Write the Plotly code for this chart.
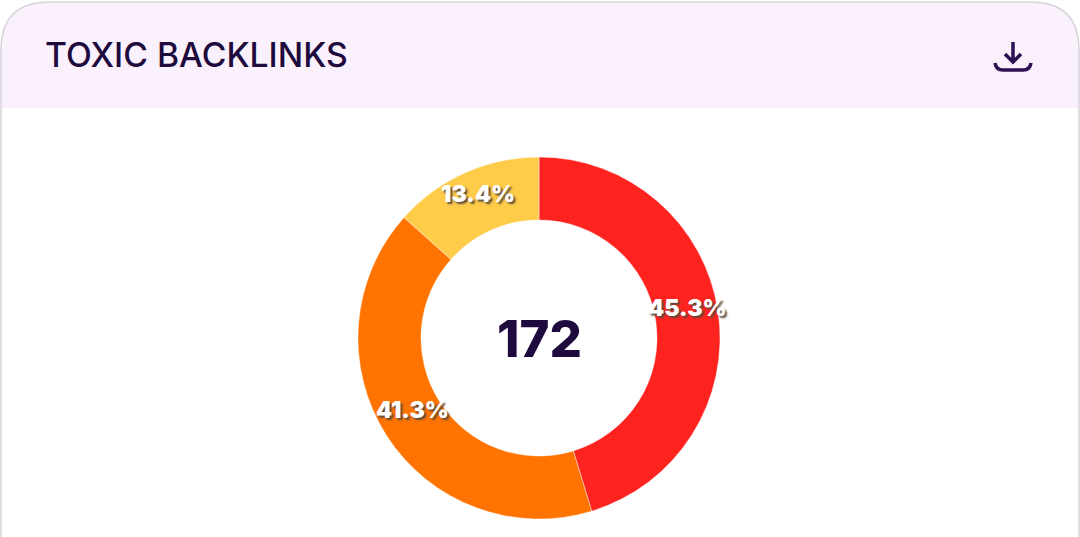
import math
import plotly.graph_objects as go

W, H = 1080, 537

labels = ["Severe", "High", "Medium"]
values = [45.3, 41.3, 13.4]
colors = ["#FF2320", "#FF7300", "#FFCC4A"]
total_label = "172"
title = "TOXIC BACKLINKS"


def px(x):
    return x / W


def py(y):
    return 1 - y / H


def path(points):
    # points are pixel positions on the page, turned into a paper svg path
    out = []
    for cmd, *xy in points:
        coords = [f"{px(xy[i]):.5f},{py(xy[i + 1]):.5f}" for i in range(0, len(xy), 2)]
        out.append(cmd + " " + " ".join(coords))
    return " ".join(out)


fig = go.Figure()

# ring centre and radii on the page
cx, cy, r_out, r_in = 539, 338, 181, 118

fig.add_trace(go.Pie(
    labels=labels,
    values=values,
    hole=r_in / r_out,
    sort=False,
    direction="clockwise",
    rotation=0,
    textinfo="none",
    showlegend=False,
    marker=dict(colors=colors, line=dict(color="rgba(255,255,255,0.7)", width=0.6)),
    domain=dict(x=[px(cx - r_out), px(cx + r_out)], y=[py(cy + r_out), py(cy - r_out)]),
))

# percent labels sit a bit above the middle of each slice
annotations = []
start = 0
for v in values:
    mid = (start + v / 2) / 100 * 2 * math.pi
    start += v
    annotations.append(dict(
        x=px(cx + 150 * math.sin(mid)),
        y=py(cy - 149 * math.cos(mid) - 8),
        xref="paper", yref="paper", showarrow=False,
        xanchor="center", yanchor="middle",
        text=f"{v}%",
        font=dict(family="Inter", size=23, color="white", weight=900,
                  shadow="2px 2px 2px #5a4a3a"),
    ))

annotations.append(dict(
    x=px(cx), y=py(339), xref="paper", yref="paper", showarrow=False,
    xanchor="center", yanchor="middle",
    text=total_label,
    font=dict(family="Inter", size=51, color="#1E0A3C", weight=800),
))
annotations.append(dict(
    x=px(43), y=py(55), xref="paper", yref="paper", showarrow=False,
    xanchor="left", yanchor="middle",
    text=title,
    font=dict(family="Inter", size=33.7, color="#1E0A3C", weight=500),
))

shapes = [
    # header band with rounded top corners
    dict(type="path", xref="paper", yref="paper", layer="below",
         fillcolor="#FAF1FD", line=dict(width=0),
         path=path([("M", 1, 108), ("L", 1, 50), ("Q", 1, 2, 50, 2), ("L", 1030, 2),
                    ("Q", 1079, 2, 1079, 50), ("L", 1079, 108), ("Z",)])),
    # card outline
    dict(type="path", xref="paper", yref="paper", layer="below",
         line=dict(color="#D6D4D8", width=1.5),
         path=path([("M", 1, H), ("L", 1, 50), ("Q", 1, 2, 50, 2), ("L", 1030, 2),
                    ("Q", 1079, 2, 1079, 50), ("L", 1079, H)])),
    # download icon
    dict(type="path", xref="paper", yref="paper",
         line=dict(color="#2D1152", width=3.5),
         path=path([("M", 1013, 42), ("L", 1013, 61),
                    ("M", 1005, 54), ("L", 1013, 62), ("L", 1021, 54),
                    ("M", 995, 63), ("Q", 996, 70, 1003, 70), ("L", 1023, 70),
                    ("Q", 1030, 70, 1031, 63)])),
]

fig.update_layout(
    width=W,
    height=H,
    margin=dict(l=0, r=0, t=0, b=0),
    paper_bgcolor="white",
    plot_bgcolor="white",
    annotations=annotations,
    shapes=shapes,
)

fig.write_html("out.html", config={"displayModeBar": False},
               post_script="document.body.style.margin='0';")
